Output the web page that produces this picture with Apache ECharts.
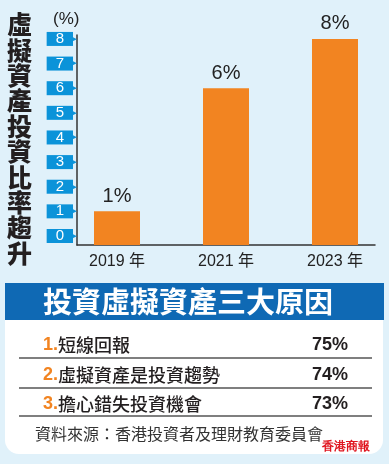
<!DOCTYPE html>
<html><head><meta charset="utf-8">
<script src="https://cdn.jsdelivr.net/npm/echarts@6/dist/echarts.min.js"></script>
<style>html,body{margin:0;padding:0;background:#e0f1fa;}#c{width:389px;height:464px;}</style>
</head><body><div id="c"></div>
<script>
const categories = ['2019 年', '2021 年', '2023 年'];
const values = [1, 6, 8];
const yTicks = [0, 1, 2, 3, 4, 5, 6, 7, 8];
const title = '虛擬資產投資比率趨升';
const panelTitle = '投資虛擬資產三大原因';
const reasons = ['短線回報', '虛擬資產是投資趨勢', '擔心錯失投資機會'];
const reasonPcts = ['75%', '74%', '73%'];
const source = '資料來源：香港投資者及理財教育委員會';
const watermark = '香港商報';

const CJK = '"Noto Sans CJK TC","Noto Sans CJK SC",sans-serif';
const LAT = '"Liberation Sans",Arial,"Noto Sans CJK TC",sans-serif';
const BLUE = '#0b93d9';
const ORANGE = '#f28421';

const chart = echarts.init(document.getElementById('c'));

const graphics = [];
graphics.push({
  type: 'text', left: 7, top: 12,
  style: { text: title.split('').join('\n'), font: '900 25px ' + CJK, fill: '#231f20', lineHeight: 25.4 }
});
graphics.push({
  type: 'text', left: 53, top: 11,
  style: { text: '(%)', font: '17px ' + LAT, fill: '#222' }
});
graphics.push({ type: 'rect', shape: { x: 5, y: 283, width: 378, height: 171, r: [0, 0, 14, 14] }, style: { fill: '#ffffff' } });
graphics.push({ type: 'rect', shape: { x: 5, y: 283, width: 379, height: 37 }, style: { fill: '#0f69b4' } });
graphics.push({
  type: 'text', x: 43, y: 302,
  style: { text: panelTitle, font: 'bold 29px ' + CJK, fill: '#ffffff', verticalAlign: 'middle' }
});
const rowY = [345, 375, 404];
const lineY = [358, 388, 416];
reasons.forEach((r, i) => {
  graphics.push({
    type: 'text', x: 43, y: rowY[i],
    style: {
      text: '{n|' + (i + 1) + '.}{t|' + r + '}', verticalAlign: 'middle',
      rich: {
        n: { font: 'bold 18px ' + LAT, fill: ORANGE },
        t: { font: '500 18px ' + CJK, fill: '#231f20' }
      }
    }
  });
  graphics.push({
    type: 'text', x: 348, y: rowY[i],
    style: { text: reasonPcts[i], font: 'bold 18px ' + LAT, fill: '#231f20', align: 'right', verticalAlign: 'middle' }
  });
  graphics.push({ type: 'line', shape: { x1: 19, y1: lineY[i], x2: 372, y2: lineY[i] }, style: { stroke: '#555', lineWidth: 1.5 } });
});
graphics.push({
  type: 'text', x: 35, y: 434,
  style: { text: source, font: '16px ' + CJK, fill: '#333', verticalAlign: 'middle' }
});
graphics.push({
  type: 'text', x: 322, y: 447,
  style: { text: watermark, font: 'bold 12px serif', fill: '#e0141e', verticalAlign: 'middle' }
});

const yCommon = {
  type: 'value', min: -0.366, max: 8.16, startValue: -0.366,
  splitLine: { show: false },
  axisTick: { show: false }
};

chart.setOption({
  backgroundColor: '#e0f1fa',
  animation: false,
  grid: { left: 77, right: 14, top: 35, bottom: 219, containLabel: false, outerBoundsMode: 'none' },
  xAxis: {
    type: 'value', min: -0.367, max: 2.367,
    splitLine: { show: false },
    axisTick: { show: false },
    axisLine: { show: true, onZero: false, lineStyle: { color: '#333', width: 1.5 } },
    axisLabel: {
      customValues: [0, 1, 2], margin: 9,
      formatter: v => categories[v],
      color: '#222', fontSize: 16, fontFamily: LAT
    }
  },
  yAxis: [
    Object.assign({}, yCommon, {
      position: 'left',
      axisLine: { show: true, onZero: false, lineStyle: { color: '#333', width: 1.5 } },
      axisLabel: {
        customValues: yTicks, margin: 4, align: 'right',
        color: '#fff', fontSize: 15, lineHeight: 14, fontFamily: LAT,
        backgroundColor: BLUE, padding: [0, 9, 0, 9]
      }
    }),
    Object.assign({}, yCommon, {
      position: 'left', offset: 0,
      axisLine: { show: false, onZero: false },
      axisLabel: {
        customValues: yTicks, margin: 0, align: 'right',
        formatter: () => '▶',
        color: BLUE, fontSize: 7, lineHeight: 14, fontFamily: '"DejaVu Sans"'
      }
    })
  ],
  series: [{
    type: 'bar',
    data: values.map((v, i) => [i, v]),
    barWidth: 46,
    itemStyle: { color: ORANGE },
    label: { show: true, position: 'top', distance: 5, formatter: p => p.value[1] + '%', color: '#222', fontSize: 20, fontFamily: LAT }
  }],
  graphic: graphics
});
</script></body></html>
